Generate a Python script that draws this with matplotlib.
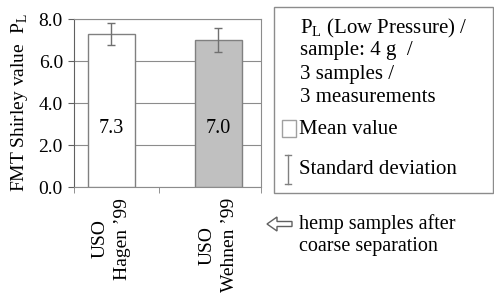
import matplotlib
matplotlib.use("Agg")
import matplotlib.pyplot as plt
from matplotlib.patches import Rectangle, Polygon
from matplotlib.lines import Line2D

# data
categories = ["USO\nHagen \u201999", "USO\nWehnen \u201999"]
means = [7.3, 7.0]
std_devs = [0.52, 0.55]
bar_colors = ["white", "#c0c0c0"]
y_ticks = [0.0, 2.0, 4.0, 6.0, 8.0]

legend_lines = ["P$_\\mathregular{L}$ (Low Pressure) /", "sample: 4 g  /",
                "3 samples /", "3 measurements"]

W, H = 494, 298
plt.rcParams["font.family"] = ["Liberation Serif", "DejaVu Serif"]
plt.rcParams["font.size"] = 14
plt.rcParams["mathtext.fontset"] = "custom"
plt.rcParams["mathtext.rm"] = "Liberation Serif"


def px(x, y):
    # pixel position (from top left) to figure fraction
    return x / W, 1 - y / H


fig = plt.figure(figsize=(W / 100, H / 100), dpi=100)
ax = fig.add_axes([74 / W, 1 - 187 / H, (261 - 74) / W, (187 - 19) / H])

xpos = list(range(len(means)))
ax.bar(xpos, means, width=0.44, color=bar_colors, edgecolor="#808080",
       linewidth=1, zorder=3)
ax.errorbar(xpos, means, yerr=std_devs, fmt="none", ecolor="#707070",
            elinewidth=1, capsize=3, capthick=1, zorder=4)
for x, v in zip(xpos, means):
    ax.text(x, 2.8, f"{v:.1f}", ha="center", va="center", fontsize=14.5, zorder=5)

ax.set_xlim(-0.35, 1.4)
ax.set_ylim(0, 8)
ax.set_yticks(y_ticks)
ax.set_yticklabels([f"{t:.1f}" for t in y_ticks])
ax.yaxis.grid(True, color="#8c8c8c", linewidth=0.8, zorder=0)
ax.set_axisbelow(True)

ax.set_xticks(xpos)
ax.set_xticklabels(categories, rotation=90, multialignment="center",
                   linespacing=1.45)
ax.set_xticks([-0.35, 0.45, 1.4], minor=True)
ax.tick_params(axis="x", which="major", length=0, pad=8)
ax.tick_params(axis="x", which="minor", length=4, color="#808080")
ax.tick_params(axis="y", length=4, color="#606060", pad=4)

for side in ["top", "right", "bottom"]:
    ax.spines[side].set_color("#8c8c8c")
ax.spines["left"].set_color("#606060")

ax.set_ylabel("FMT Shirley value  P$_\\mathregular{L}$", labelpad=6)

# legend box drawn by hand
box = Rectangle(px(274, 193), 219 / W, 186 / H, transform=fig.transFigure,
                facecolor="white", edgecolor="#8c8c8c", linewidth=1)
fig.patches.append(box)
for i, line in enumerate(legend_lines):
    fig.text(*px(300, 28 + i * 23), line, ha="left", va="center", fontsize=15)

sq = Rectangle(px(282, 137), 14 / W, 17 / H, transform=fig.transFigure,
               facecolor="white", edgecolor="#a0a0a0", linewidth=1)
fig.patches.append(sq)
fig.text(*px(299, 130), "Mean value", ha="left", va="center", fontsize=15)

for seg in [((288, 155), (288, 184)), ((285, 155), (291, 155)), ((285, 184), (291, 184))]:
    (x0, y0), (x1, y1) = seg
    a, b = px(x0, y0)
    c, d = px(x1, y1)
    fig.lines.append(Line2D([a, c], [b, d], transform=fig.transFigure,
                            color="#808080", linewidth=1))
fig.text(*px(299, 170), "Standard deviation", ha="left", va="center", fontsize=15)

# hollow arrow pointing at the categories
arrow_pts = [(267, 224), (277, 217), (277, 221.5), (292, 221.5),
             (292, 226.5), (277, 226.5), (277, 231)]
fig.patches.append(Polygon([px(x, y) for x, y in arrow_pts], closed=True,
                           transform=fig.transFigure, facecolor="white",
                           edgecolor="#606060", linewidth=1))
fig.text(*px(299, 224), "hemp samples after", ha="left", va="center", fontsize=14.5)
fig.text(*px(299, 247), "coarse separation", ha="left", va="center", fontsize=14.5)

fig.savefig("out.png", dpi=100)
